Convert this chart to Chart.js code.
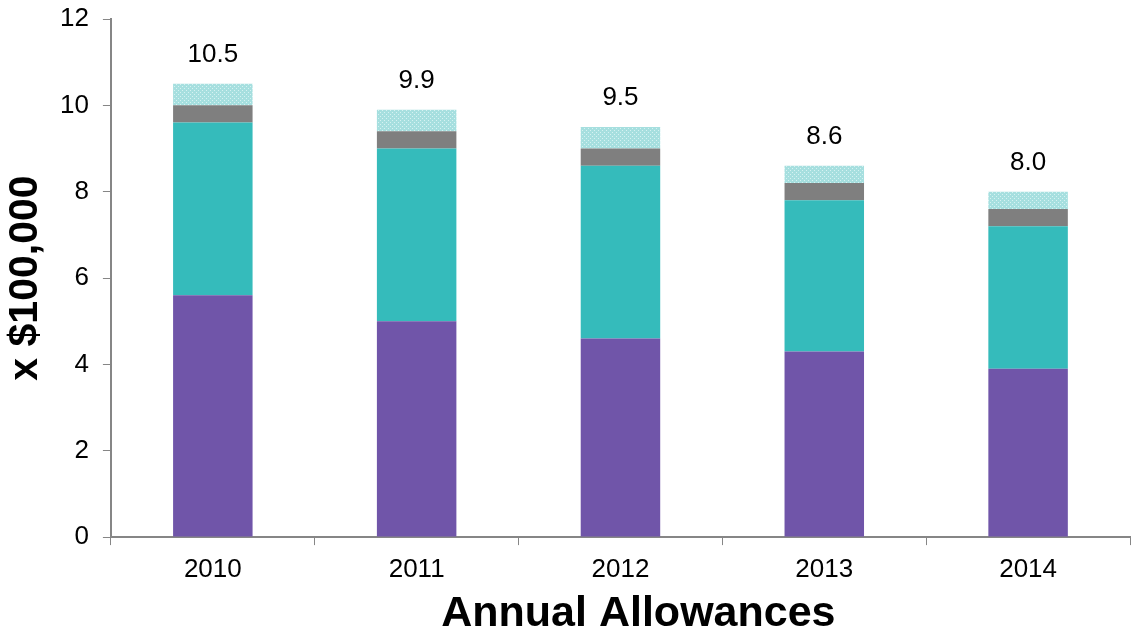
<!DOCTYPE html>
<html>
<head>
<meta charset="utf-8">
<script src="https://cdn.jsdelivr.net/npm/chart.js@4.4.1/dist/chart.umd.min.js"></script>
<style>
  html, body { margin: 0; padding: 0; background: #fff; }
  #wrap { width: 1136px; height: 633px; }
</style>
</head>
<body>
<div id="wrap"><canvas id="allowChart"></canvas></div>
<script>
// values, in units of $100,000
var years = ['2010', '2011', '2012', '2013', '2014'];
var purplePart = [5.6, 5.0, 4.6, 4.3, 3.9];
var tealPart = [4.0, 4.0, 4.0, 3.5, 3.3];
var grayPart = [0.4, 0.4, 0.4, 0.4, 0.4];
var dottedPart = [0.5, 0.5, 0.5, 0.4, 0.4];
var totalLabels = ['10.5', '9.9', '9.5', '8.6', '8.0'];

var FONT = 'Arial, "Liberation Sans", sans-serif';

// small dotted fill for the top segment
function makeDots() {
    var c = document.createElement('canvas');
    c.width = 4; c.height = 4;
    var g = c.getContext('2d');
    g.fillStyle = '#a6dfdf';
    g.fillRect(0, 0, 4, 4);
    g.fillStyle = '#d6f2f2';
    g.fillRect(0, 0, 1, 1);
    g.fillRect(2, 2, 1, 1);
    return g.createPattern(c, 'repeat');
}

// writes the total above each stack
var totalsPlugin = {
    id: 'totals',
    afterDatasetsDraw: function (chart) {
        var ctx = chart.ctx;
        var xs = chart.scales.x, ys = chart.scales.y;
        ctx.save();
        ctx.font = '26px ' + FONT;
        ctx.fillStyle = '#000';
        ctx.textAlign = 'center';
        ctx.textBaseline = 'middle';
        years.forEach(function (yr, i) {
            var total = purplePart[i] + tealPart[i] + grayPart[i] + dottedPart[i];
            ctx.fillText(totalLabels[i], xs.getPixelForValue(i), ys.getPixelForValue(total) - 29);
        });
        ctx.restore();
    }
};

var ctx = document.getElementById('allowChart').getContext('2d');
var barCommon = { stack: 's', barPercentage: 0.39, categoryPercentage: 1.0, borderWidth: 0 };

new Chart(ctx, {
    type: 'bar',
    data: {
        labels: years,
        datasets: [
            Object.assign({ label: 'A', data: purplePart, backgroundColor: '#7055a9' }, barCommon),
            Object.assign({ label: 'B', data: tealPart, backgroundColor: '#35bbbb' }, barCommon),
            Object.assign({ label: 'C', data: grayPart, backgroundColor: '#7f7f7f' }, barCommon),
            Object.assign({ label: 'D', data: dottedPart, backgroundColor: makeDots() }, barCommon)
        ]
    },
    options: {
        responsive: true,
        maintainAspectRatio: false,
        animation: false,
        layout: { padding: { top: 19, right: 6, left: 5, bottom: 0 } },
        plugins: {
            legend: { display: false },
            tooltip: { enabled: false }
        },
        scales: {
            x: {
                stacked: true,
                grid: { drawOnChartArea: false, drawTicks: true, tickLength: 8, color: '#868686', offset: true },
                border: { color: '#868686', width: 2 },
                ticks: { color: '#000', font: { family: FONT, size: 26 }, padding: 9 },
                title: { display: true, text: '\u00a0\u00a0\u00a0Annual Allowances', color: '#000', font: { family: FONT, size: 43, weight: 'bold', lineHeight: 0.9 }, padding: { top: 0, bottom: 0 } }
            },
            y: {
                stacked: true,
                min: 0,
                max: 12,
                // let the top tick label hang into the padding
                afterFit: function (scale) { scale.paddingTop = 0; },
                grid: { drawOnChartArea: false, drawTicks: true, tickLength: 8, color: '#868686' },
                border: { color: '#868686', width: 2 },
                ticks: { stepSize: 2, color: '#000', font: { family: FONT, size: 26 }, padding: 14 },
                title: { display: true, text: 'x $100,000', color: '#000', font: { family: FONT, size: 41, weight: 'bold', lineHeight: 1.0 }, padding: { top: 0, bottom: 0 } }
            }
        }
    },
    plugins: [totalsPlugin]
});
</script>
</body>
</html>
